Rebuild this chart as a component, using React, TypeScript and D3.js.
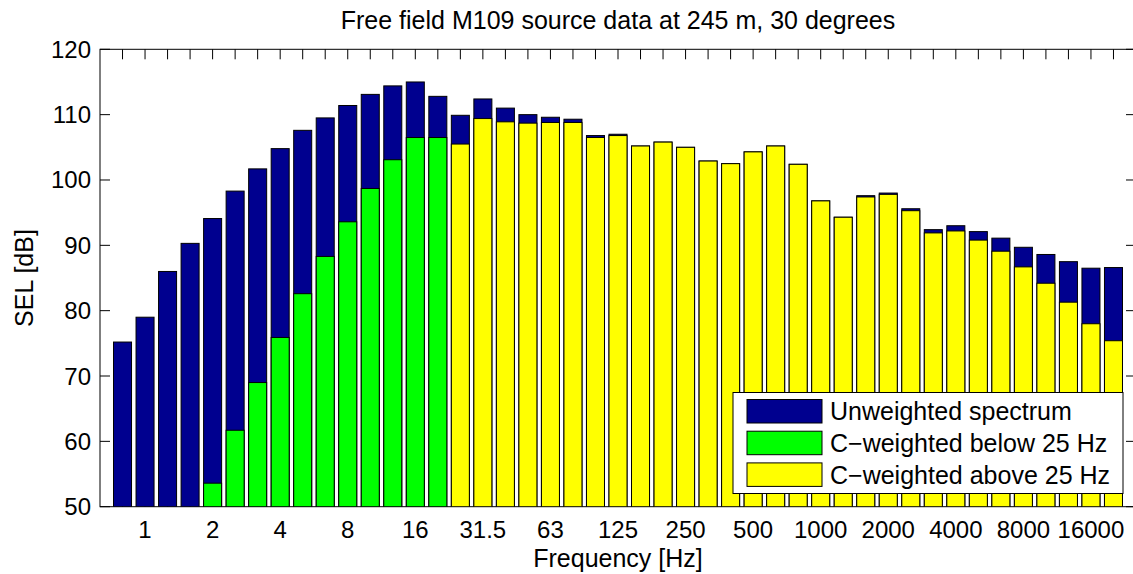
import React from "react";
import * as d3 from "d3";

const bands = [
  "0.8", "1", "1.25", "1.6", "2", "2.5", "3.15", "4", "5", "6.3", "8", "10", "12.5", "16", "20",
  "25", "31.5", "40", "50", "63", "80", "100", "125", "160", "200", "250", "315", "400", "500",
  "630", "800", "1000", "1250", "1600", "2000", "2500", "3150", "4000", "5000", "6300", "8000",
  "10000", "12500", "16000", "20000",
];

const unweighted = [
  75.2, 79.0, 86.0, 90.3, 94.1, 98.3, 101.7, 104.8, 107.6, 109.5, 111.4, 113.1, 114.4, 115.0, 112.8,
  109.9, 112.4, 111.0, 110.0, 109.6, 109.3, 106.8, 107.0, 105.2, 105.8, 105.0, 102.9, 102.5, 104.3,
  105.2, 102.4, 96.8, 94.3, 97.6, 98.0, 95.6, 92.4, 93.0, 92.1, 91.1, 89.7, 88.6, 87.5, 86.5, 86.6,
];

// C-weighted, bands 0.8 .. 20 Hz (null = below the axis)
const cWeightedBelow = [
  null, null, null, null, 53.6, 61.7, 69.0, 75.9, 82.6, 88.3, 93.6, 98.7, 103.1, 106.5, 106.5,
];

// C-weighted, bands 25 .. 20000 Hz
const cWeightedAbove = [
  105.5, 109.4, 108.9, 108.7, 108.8, 108.8, 106.5, 106.8, 105.2, 105.8, 105.0, 102.9, 102.5, 104.3,
  105.2, 102.4, 96.8, 94.3, 97.4, 97.8, 95.3, 91.9, 92.2, 90.8, 89.1, 86.7, 84.2, 81.3, 78.0, 75.4,
];

const xTickLabels = ["1", "2", "4", "8", "16", "31.5", "63", "125", "250", "500", "1000", "2000", "4000", "8000", "16000"];
const yTicks = [50, 60, 70, 80, 90, 100, 110, 120];

const legendItems = [
  { label: "Unweighted spectrum", color: "#00008F" },
  { label: "C\u2212weighted below 25 Hz", color: "#00FF00" },
  { label: "C\u2212weighted above 25 Hz", color: "#FFFF00" },
];

const W = 1133;
const H = 574;
const left = 100;
const right = 1136;
const top = 49.3;
const bottom = 506.7;
const font = "Liberation Sans, Arial, Helvetica, sans-serif";

export default function App() {
  const x = d3.scaleLinear().domain([0, bands.length + 1]).range([left, right]);
  const y = d3.scaleLinear().domain([50, 120]).range([bottom, top]);
  const bw = (x(1) - x(0)) * 0.8;
  const tickLen = 10;

  const bar = (i: number, v: number | null, color: string, key: string) => {
    if (v == null) return null;
    const cx = x(i + 1);
    const yt = y(v);
    return (
      <rect key={key} x={cx - bw / 2} y={yt} width={bw} height={y(50) - yt}
        fill={color} stroke="#000" strokeWidth={1} />
    );
  };

  const belowOffset = 0;
  const aboveOffset = cWeightedBelow.length;

  return (
    <svg width={W} height={H} style={{ position: "absolute", left: 0, top: 0, background: "#fff" }}
      fontFamily={font}>
      <rect x={0} y={0} width={W} height={H} fill="#fff" />
      <defs>
        <clipPath id="plot">
          <rect x={left} y={top} width={right - left} height={bottom - top} />
        </clipPath>
      </defs>
      {/* axes box & ticks (beneath data) */}
      <g stroke="#000" strokeWidth={1} fill="none">
        <rect x={left} y={top} width={right - left} height={bottom - top} />
        {bands.map((_, i) => (
          <g key={"xt" + i}>
            <line x1={x(i + 1)} x2={x(i + 1)} y1={top} y2={top + tickLen} />
            <line x1={x(i + 1)} x2={x(i + 1)} y1={bottom} y2={bottom - tickLen} />
          </g>
        ))}
        {yTicks.map((t) => (
          <g key={"yt" + t}>
            <line x1={left} x2={left + tickLen} y1={y(t)} y2={y(t)} />
            <line x1={right} x2={right - tickLen} y1={y(t)} y2={y(t)} />
          </g>
        ))}
      </g>
      <g clipPath="url(#plot)">
        {unweighted.map((v, i) => bar(i, v, "#00008F", "u" + i))}
        {cWeightedBelow.map((v, i) => bar(i + belowOffset, v, "#00FF00", "b" + i))}
        {cWeightedAbove.map((v, i) => bar(i + aboveOffset, v, "#FFFF00", "a" + i))}
      </g>
      {/* tick labels */}
      <g fontSize={24} fill="#000">
        {xTickLabels.map((lab) => {
          const i = bands.indexOf(lab);
          return (
            <text key={"xl" + lab} x={x(i + 1)} y={538} textAnchor="middle">{lab}</text>
          );
        })}
        {yTicks.map((t) => (
          <text key={"yl" + t} x={91} y={y(t)} textAnchor="end" dominantBaseline="central">{t}</text>
        ))}
      </g>
      <text x={(left + right) / 2} y={28.5} textAnchor="middle" fontSize={25}>
        Free field M109 source data at 245 m, 30 degrees
      </text>
      <text x={(left + right) / 2} y={567} textAnchor="middle" fontSize={25}>Frequency [Hz]</text>
      <text transform={`translate(33, ${(top + bottom) / 2}) rotate(-90)`} textAnchor="middle" fontSize={25}>
        SEL [dB]
      </text>
      {/* legend */}
      <g>
        <rect x={733} y={392.5} width={390} height={101} fill="#fff" stroke="#000" strokeWidth={1} />
        {legendItems.map((it, k) => (
          <g key={"lg" + k}>
            <rect x={747} y={399.5 + k * 31.7} width={75} height={23.5} fill={it.color} stroke="#000" strokeWidth={1} />
            <text x={830} y={411.2 + k * 31.7} fontSize={25} dominantBaseline="central">{it.label}</text>
          </g>
        ))}
      </g>
    </svg>
  );
}
